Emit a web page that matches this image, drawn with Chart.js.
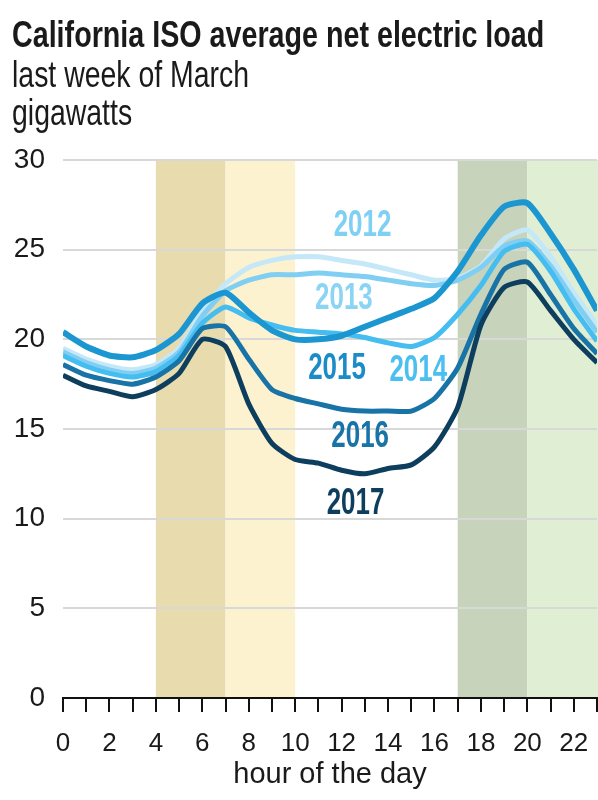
<!DOCTYPE html>
<html>
<head>
<meta charset="utf-8">
<script src="https://cdn.jsdelivr.net/npm/chart.js@4.4.1/dist/chart.umd.min.js"></script>
<style>
  html, body { margin: 0; padding: 0; background: #fff; }
  #wrap { width: 598px; height: 800px; }
</style>
</head>
<body>
<div id="wrap"><canvas id="chart" width="598" height="800"></canvas></div>
<script>
// данные
const hours = [0,1,2,3,4,5,6,7,8,9,10,11,12,13,14,15,16,17,18,19,20,21,22,23]
const years = ['2012', '2013', '2014', '2015', '2016', '2017']
const load2012 = [19.5,18.9,18.5,18.3,18.6,19.5,21.6,23.1,24.0,24.4,24.6,24.6,24.4,24.2,23.9,23.6,23.3,23.4,24.1,25.6,26.1,24.6,22.6,20.8]
const load2013 = [19.3,18.7,18.3,18.1,18.4,19.3,21.3,22.7,23.3,23.6,23.6,23.7,23.6,23.5,23.3,23.1,23.0,23.3,24.0,25.2,25.5,24.1,22.2,20.4]
const load2014 = [19.1,18.5,18.1,17.9,18.2,19.1,20.9,21.8,21.2,20.8,20.5,20.4,20.3,20.1,19.8,19.6,20.1,21.4,23.0,24.9,25.3,23.8,21.7,19.9]
const load2015 = [20.4,19.6,19.1,19.0,19.4,20.3,22.0,22.6,21.5,20.5,20.0,20.0,20.2,20.7,21.2,21.7,22.3,23.8,25.8,27.4,27.6,25.9,23.9,21.6]
const load2016 = [18.6,18.0,17.7,17.5,17.9,18.8,20.6,20.7,18.9,17.2,16.7,16.4,16.1,16.0,16.0,16.0,16.7,18.4,21.4,23.9,24.3,22.5,20.6,19.2]
const load2017 = [18.0,17.4,17.1,16.8,17.2,18.1,20.0,19.6,16.4,14.2,13.3,13.1,12.7,12.5,12.8,13.0,14.0,16.2,20.8,22.9,23.2,21.6,20.0,18.7]
const allLoads = [load2012, load2013, load2014, load2015, load2016, load2017]

// где стоят подписи годов (час, ГВт)
const labelHours = [12.9, 12.1, 15.3, 11.8, 12.8, 12.6]
const labelValues = [26.5, 22.4, 18.4, 18.5, 14.7, 11.0]

// цветные полосы: от часа, до часа
const bandFrom = [4, 7, 17, 20]
const bandTo = [7, 10, 20, 23]
const bandColors = ['#e8dcae', '#fdf2cf', '#c7d3bb', '#e0eed3']

const yTicks = [0, 5, 10, 15, 20, 25, 30]

const lineColors = ['#c4e8f8', '#80cff3', '#45bdf0', '#1b96d1', '#1873a6', '#0d3e5d']
const textColors = ['#80d0f4', '#8ad4f5', '#4bbff0', '#1b8cc8', '#1873a6', '#0d3e5d']

const WIDE = "'Liberation Sans', Arial, sans-serif"

function drawCondensed(ctx, text, x, y, font, color, sx, align) {
    ctx.save()
    ctx.font = font
    ctx.fillStyle = color
    ctx.textAlign = align || 'left'
    ctx.textBaseline = 'alphabetic'
    ctx.translate(x, y)
    ctx.scale(sx, 1)
    ctx.fillText(text, 0, 0)
    ctx.restore()
}

// полосы под сеткой
const bandsPlugin = {
    id: 'bands',
    beforeDraw(chart) {
        const ctx = chart.ctx
        const x = chart.scales.x
        const area = chart.chartArea
        for (let i = 0; i < bandFrom.length; i++) {
            const x1 = x.getPixelForValue(bandFrom[i])
            const x2 = i === bandFrom.length - 1 ? chart.width : x.getPixelForValue(bandTo[i])
            ctx.fillStyle = bandColors[i]
            ctx.fillRect(x1, area.top, x2 - x1, area.bottom - area.top)
        }
    }
}

// заголовки и подписи годов
const textPlugin = {
    id: 'texts',
    afterDraw(chart) {
        const ctx = chart.ctx
        drawCondensed(ctx, 'California ISO average net electric load', 12, 47, 'bold 37px ' + WIDE, '#1a1a1a', 0.775)
        drawCondensed(ctx, 'last week of March', 12, 87, '36px ' + WIDE, '#1a1a1a', 0.79)
        drawCondensed(ctx, 'gigawatts', 12, 125, '36px ' + WIDE, '#1a1a1a', 0.79)

        const x = chart.scales.x
        const y = chart.scales.y
        for (let i = 0; i < years.length; i++) {
            const px = x.getPixelForValue(labelHours[i])
            const py = y.getPixelForValue(labelValues[i]) + 13
            drawCondensed(ctx, years[i], px, py, 'bold 36px ' + WIDE, textColors[i], 0.72, 'center')
        }
    }
}

const datasets = []
for (let i = 0; i < years.length; i++) {
    datasets.push({
        label: years[i],
        data: hours.map((h, j) => ({ x: h, y: allLoads[i][j] })),
        borderColor: lineColors[i],
        borderWidth: i === 3 ? 6 : 5,
        pointRadius: 0,
        tension: 0.2,
        fill: false,
        order: years.length - i
    })
}

new Chart(document.getElementById('chart'), {
    type: 'line',
    data: { datasets: datasets },
    options: {
        responsive: false,
        animation: false,
        layout: { padding: { top: 160, right: 1, left: 0, bottom: 0 } },
        plugins: {
            legend: { display: false },
            tooltip: { enabled: false }
        },
        scales: {
            x: {
                type: 'linear',
                min: 0,
                max: 23,
                afterFit(scale) {
                    scale.height = 102
                    scale.paddingLeft = 0
                    scale.paddingRight = 0
                },
                afterBuildTicks(scale) { scale.ticks = hours.map(h => ({ value: h })) },
                ticks: {
                    autoSkip: false,
                    maxRotation: 0,
                    padding: 16,
                    color: '#1a1a1a',
                    font: { family: WIDE, size: 26 },
                    callback: v => (v % 2 === 0 ? String(v) : '')
                },
                grid: {
                    drawOnChartArea: false,
                    drawTicks: true,
                    tickLength: 14,
                    color: '#111',
                    lineWidth: 2
                },
                border: { display: true, color: '#111', width: 2 },
                title: {
                    display: true,
                    text: 'hour of the day',
                    color: '#1a1a1a',
                    font: { family: WIDE, size: 29 },
                    padding: { top: 0, bottom: 8 }
                }
            },
            y: {
                min: 0,
                max: 30,
                afterFit(scale) { scale.width = 63 },
                afterBuildTicks(scale) { scale.ticks = yTicks.map(v => ({ value: v })) },
                ticks: {
                    padding: 18,
                    color: '#1a1a1a',
                    font: { family: WIDE, size: 28 }
                },
                grid: {
                    drawTicks: false,
                    color: '#d8d8d8',
                    lineWidth: 2
                },
                border: { display: false }
            }
        }
    },
    plugins: [bandsPlugin, textPlugin]
});
</script>
</body>
</html>
